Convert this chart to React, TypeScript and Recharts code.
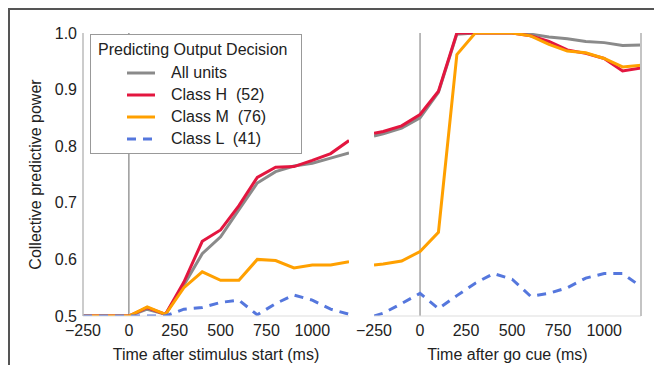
import { LineChart, Line, XAxis, YAxis, ReferenceLine, Legend } from "recharts";

const times = [-250, -200, -100, 0, 100, 200, 300, 400, 500, 600, 700, 800, 900, 1000, 1100, 1200];

// aligned to stimulus start
const stimAll = [0.5, 0.5, 0.5, 0.5, 0.512, 0.503, 0.555, 0.61, 0.64, 0.688, 0.735, 0.755, 0.765, 0.77, 0.779, 0.788];
const stimH = [0.5, 0.5, 0.5, 0.5, 0.515, 0.503, 0.56, 0.632, 0.652, 0.695, 0.745, 0.763, 0.764, 0.775, 0.787, 0.81];
const stimM = [0.5, 0.5, 0.5, 0.5, 0.516, 0.503, 0.55, 0.578, 0.563, 0.563, 0.6, 0.598, 0.585, 0.59, 0.59, 0.596];
const stimL = [0.5, 0.5, 0.5, 0.5, 0.5, 0.5, 0.512, 0.515, 0.524, 0.528, 0.502, 0.522, 0.537, 0.528, 0.512, 0.503];

// aligned to go cue
const goAll = [0.818, 0.822, 0.832, 0.85, 0.895, 0.998, 1.0, 1.0, 1.0, 0.998, 0.993, 0.99, 0.985, 0.983, 0.978, 0.979];
const goH = [0.823, 0.826, 0.836, 0.856, 0.897, 1.0, 1.0, 1.0, 1.0, 0.995, 0.985, 0.97, 0.964, 0.955, 0.933, 0.938];
const goM = [0.59, 0.592, 0.597, 0.614, 0.648, 0.962, 1.0, 1.0, 1.0, 0.995, 0.98, 0.968, 0.965, 0.955, 0.94, 0.943];
const goL = [0.5, 0.505, 0.522, 0.54, 0.513, 0.536, 0.558, 0.575, 0.565, 0.535, 0.54, 0.55, 0.567, 0.575, 0.575, 0.552];

const legendNames = ["All units", "Class H  (52)", "Class M  (76)", "Class L  (41)"];
const xTicks = [-250, 0, 250, 500, 750, 1000];
const yTicks = [0.5, 0.6, 0.7, 0.8, 0.9, 1.0];

const FONT = "'Liberation Sans', Arial, Helvetica, sans-serif";
const tickStyle = { fill: "#222", fontSize: 16, fontFamily: FONT };

const stimData = times.map((t, i) => ({ t, all: stimAll[i], h: stimH[i], m: stimM[i], l: stimL[i] }));
const goData = times.map((t, i) => ({ t, all: goAll[i], h: goH[i], m: goM[i], l: goL[i] }));

const fmtX = (v: number) => (v < 0 ? `\u2212${-v}` : `${v}`);

const LegendBox = (props: any) => {
  const items = [...(props.payload || [])].sort(
    (a: any, b: any) => legendNames.indexOf(a.value) - legendNames.indexOf(b.value)
  );
  return (
    <div
      style={{
        width: 210,
        height: 118,
        border: "1px solid #999",
        background: "#fff",
        fontFamily: FONT,
        fontSize: 16,
        color: "#222",
        position: "relative",
      }}
    >
      <div style={{ position: "absolute", left: 7, top: 6, whiteSpace: "pre" }}>Predicting Output Decision</div>
      {items.map((it: any, i: number) => (
        <div key={i} style={{ position: "absolute", left: 36, top: 28 + i * 22, height: 20, display: "flex", alignItems: "center" }}>
          <svg width={28} height={6}>
            <line
              x1={0}
              y1={3}
              x2={28}
              y2={3}
              stroke={it.color}
              strokeWidth={3}
              strokeDasharray={it.payload?.strokeDasharray}
            />
          </svg>
          <span style={{ marginLeft: 16, whiteSpace: "pre" }}>{it.value}</span>
        </div>
      ))}
    </div>
  );
};

const series = (withNames: boolean) => [
  <Line key="all" dataKey="all" name={legendNames[0]} stroke="#8a8a8a" strokeWidth={3} dot={false} isAnimationActive={false} legendType={withNames ? "line" : "none"} />,
  <Line key="h" dataKey="h" name={legendNames[1]} stroke="#e3163f" strokeWidth={3} dot={false} isAnimationActive={false} legendType={withNames ? "line" : "none"} />,
  <Line key="m" dataKey="m" name={legendNames[2]} stroke="#ffa000" strokeWidth={3} dot={false} isAnimationActive={false} legendType={withNames ? "line" : "none"} />,
  <Line key="l" dataKey="l" name={legendNames[3]} stroke="#5577dd" strokeWidth={3} strokeDasharray="9 7" dot={false} isAnimationActive={false} legendType={withNames ? "line" : "none"} />,
];

export default function App() {
  return (
    <div style={{ position: "absolute", left: 0, top: 0, width: 654, height: 365, background: "#fff", overflow: "hidden" }}>
      <div style={{ position: "absolute", left: 8, top: 8, width: 660, height: 370, borderTop: "2px solid #555", borderLeft: "2px solid #555" }} />

      <div style={{ position: "absolute", left: 0, top: 0 }}>
        <LineChart width={360} height={365} data={stimData} margin={{ top: 33, right: 11, bottom: 0, left: 8 }}>
          <XAxis
            type="number"
            dataKey="t"
            domain={[-250, 1200]}
            ticks={xTicks}
            tickFormatter={fmtX}
            allowDataOverflow
            height={49}
            tickSize={0}
            tickMargin={9}
            axisLine={{ stroke: "#ddd" }}
            tick={tickStyle}
            label={{ value: "Time after stimulus start (ms)", position: "insideBottom", offset: 5, style: { ...tickStyle, textAnchor: "middle" } }}
          />
          <YAxis
            type="number"
            domain={[0.5, 1.0]}
            ticks={yTicks}
            tickFormatter={(v: number) => v.toFixed(1)}
            allowDataOverflow
            width={75}
            tickSize={0}
            tickMargin={6}
            axisLine={{ stroke: "#bbb", strokeWidth: 1.5 }}
            tick={tickStyle}
            label={{ value: "Collective predictive power", angle: -90, position: "insideLeft", offset: 27, style: { ...tickStyle, textAnchor: "middle" } }}
          />
          <ReferenceLine x={0} stroke="#999" strokeWidth={1.5} />
          {series(true)}
          <Legend
            layout="vertical"
            align="center"
            verticalAlign="middle"
            content={LegendBox}
            wrapperStyle={{ position: "absolute", left: 90, top: 34, width: 212, height: 120 }}
          />
        </LineChart>
      </div>

      <div style={{ position: "absolute", left: 354, top: 0 }}>
        <LineChart width={300} height={365} data={goData} margin={{ top: 33, right: 3, bottom: 0, left: 20 }}>
          <XAxis
            type="number"
            dataKey="t"
            domain={[-250, 1200]}
            ticks={xTicks}
            tickFormatter={fmtX}
            allowDataOverflow
            height={49}
            tickSize={0}
            tickMargin={9}
            axisLine={{ stroke: "#ddd" }}
            tick={tickStyle}
            label={{ value: "Time after go cue (ms)", position: "insideBottom", offset: 5, style: { ...tickStyle, textAnchor: "middle" } }}
          />
          <YAxis
            orientation="right"
            type="number"
            domain={[0.5, 1.0]}
            ticks={yTicks}
            allowDataOverflow
            width={10}
            tick={false}
            tickSize={0}
            axisLine={{ stroke: "#c4c4c4", strokeWidth: 2 }}
          />
          <ReferenceLine x={0} stroke="#777" strokeWidth={1} />
          {series(false)}
        </LineChart>
      </div>
    </div>
  );
}
